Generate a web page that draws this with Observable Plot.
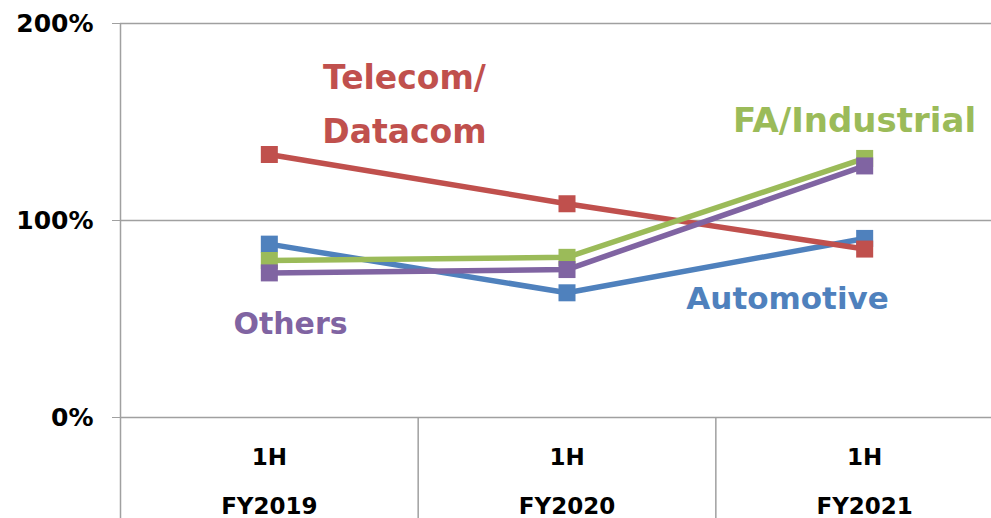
<!DOCTYPE html>
<html>
<head>
<meta charset="utf-8">
<script src="https://cdn.jsdelivr.net/npm/d3@7"></script>
<script src="https://cdn.jsdelivr.net/npm/@observablehq/plot@0.6"></script>
<style>
  html, body { margin: 0; padding: 0; background: #fff; overflow: hidden; }
  #chart svg { display: block; }
</style>
</head>
<body>
<div id="chart"></div>
<script>
// ---- data ----
const categories = ["FY2019", "FY2020", "FY2021"];
const period = "1H";
const seriesNames = ["Automotive", "Telecom/Datacom", "FA/Industrial", "Others"];
const automotive = [88, 63.3, 90.9];
const telecom = [133.5, 108.5, 85.5];
const industrial = [79.7, 81.3, 131.5];
const others = [73.4, 75.1, 127.7];
const yTicks = [0, 100, 200];
const seriesLabels = ["Automotive", "Telecom/\nDatacom", "FA/Industrial", "Others"];

// ---- styling / layout (not data) ----
const colors = ["#4F81BD", "#C0504D", "#9BBB59", "#8064A2"];
const labelLayout = [
  {x: 1.741, y: 63.5, size: 31},
  {x: 0.454, y: 162.0, size: 33},
  {x: 1.966, y: 154.3, size: 34},
  {x: 0.071, y: 50.5, size: 30}
];

const values = [automotive, telecom, industrial, others];
const rows = [];
seriesNames.forEach((s, si) => {
  values[si].forEach((v, ci) => rows.push({series: s, order: si, xi: ci, cat: categories[ci], value: v}));
});
const labels = seriesNames.map((s, i) => ({series: s, text: seriesLabels[i], ...labelLayout[i]}));
const boundaries = d3.range(categories.length + 1).map(i => i - 0.5);
const gridColor = "#A0A0A0";
const font = "'DejaVu Sans', Verdana, sans-serif";

const marks = [
  // horizontal gridlines
  Plot.ruleY(yTicks, {x1: -0.5, x2: categories.length - 0.5, stroke: gridColor, strokeWidth: 1.5}),
  // y axis line
  Plot.ruleX([boundaries[0]], {y1: d3.max(yTicks), y2: -52, stroke: gridColor, strokeWidth: 1.5}),
  // category separators below the axis
  Plot.ruleX(boundaries.slice(1), {y1: 0, y2: -52, stroke: gridColor, strokeWidth: 1.5}),
  Plot.axisY({ticks: yTicks, tickSize: 8, tickPadding: 19, stroke: gridColor, fill: "black",
    tickFormat: d => d + "%", fontSize: 25, fontWeight: "bold", label: null}),
  // x labels
  Plot.text(categories.map((c, i) => ({xi: i, t: period})), {x: "xi", y: () => 0, text: "t", dy: 40,
    lineAnchor: "middle", fontSize: 23, fontWeight: "bold", fill: "black"}),
  Plot.text(categories.map((c, i) => ({xi: i, t: c})), {x: "xi", y: () => 0, text: "t", dy: 89.5,
    lineAnchor: "middle", fontSize: 23, fontWeight: "bold", fill: "black"})
];

seriesNames.forEach((s, si) => {
  const d = rows.filter(r => r.series === s);
  marks.push(Plot.line(d, {x: "xi", y: "value", stroke: colors[si], strokeWidth: 5.5}));
  marks.push(Plot.dot(d, {x: "xi", y: "value", symbol: "square", r: 9.6, fill: colors[si], stroke: "none"}));
});

labels.forEach((l, i) => {
  marks.push(Plot.text([l], {x: "x", y: "y", text: "text", fill: colors[i], fontSize: l.size,
    fontWeight: "bold", lineAnchor: "middle", lineHeight: 1.66, textAnchor: "middle"}));
});

const chart = Plot.plot({
  width: 991,
  height: 518,
  marginLeft: 120,
  marginRight: 0,
  marginTop: 23,
  marginBottom: 101,
  style: {fontFamily: font, background: "white", overflow: "hidden"},
  x: {type: "linear", domain: [-0.5, categories.length - 0.5], range: [120, 120 + 297.67 * categories.length], axis: null},
  y: {domain: [0, 200], range: [417, 23], axis: null},
  marks
});
document.getElementById("chart").appendChild(chart);
</script>
</body>
</html>
